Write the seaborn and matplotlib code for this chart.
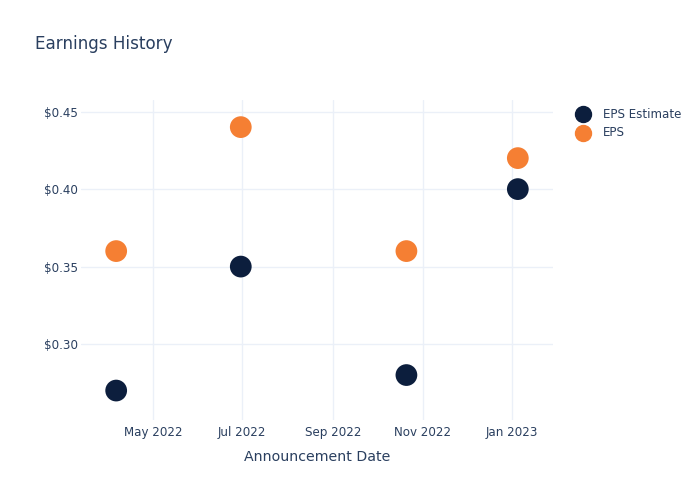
import matplotlib
matplotlib.use("Agg")
import matplotlib.pyplot as plt
import matplotlib.dates as mdates
from matplotlib.ticker import FuncFormatter
import seaborn as sns
import pandas as pd

dates = ["2022-04-06", "2022-06-30", "2022-10-21", "2023-01-05"]
eps_estimate = [0.27, 0.35, 0.28, 0.40]
eps_actual = [0.36, 0.44, 0.36, 0.42]
series_names = ["EPS Estimate", "EPS"]
colors = ["#0c1e3d", "#f57f33"]

df = pd.DataFrame({
    "date": pd.to_datetime(dates * 2),
    "value": eps_estimate + eps_actual,
    "series": [series_names[0]] * len(dates) + [series_names[1]] * len(dates),
})

sns.set_theme(style="white")
plt.rcParams["font.family"] = ["DejaVu Sans"]
text_color = "#2a3f5f"
grid_color = "#ebf0f8"

fig = plt.figure(figsize=(7, 5), dpi=100)
ax = fig.add_axes([81 / 700, 80 / 500, 472 / 700, 320 / 500])

sns.scatterplot(data=df, x="date", y="value", hue="series", palette=colors,
                hue_order=series_names, s=245, edgecolor="none", ax=ax,
                legend=False, zorder=3)

ax.set_xlim(pd.Timestamp("2022-03-13"), pd.Timestamp("2023-01-29"))
ax.set_ylim(0.251, 0.4575)
ax.set_xticks(pd.to_datetime(["2022-05-01", "2022-07-01", "2022-09-01", "2022-11-01", "2023-01-01"]))
ax.xaxis.set_major_formatter(mdates.DateFormatter("%b %Y"))
ax.set_yticks([0.30, 0.35, 0.40, 0.45])
ax.yaxis.set_major_formatter(FuncFormatter(lambda v, p: f"${v:.2f}"))

ax.grid(True, color=grid_color, linewidth=1)
ax.set_axisbelow(True)
for sp in ax.spines.values():
    sp.set_visible(False)
ax.tick_params(axis="both", length=0, labelsize=8.6, colors=text_color)
ax.tick_params(axis="x", pad=4)
ax.tick_params(axis="y", pad=2)
ax.set_xlabel("Announcement Date", fontsize=10.2, color=text_color, labelpad=8)
ax.set_ylabel("")

fig.text(35 / 700, 1 - 44 / 500, "Earnings History", fontsize=12.1,
         color=text_color, va="center", ha="left")

# legend
for i, (name, c) in enumerate(zip(series_names, colors)):
    y = 1 - (114 + i * 19) / 500
    fig.lines.append(plt.Line2D([583 / 700], [y], marker="o", markersize=11.5,
                                color=c, linestyle="none", transform=fig.transFigure))
    fig.text(603 / 700, y, name, fontsize=8.6, color=text_color, va="center", ha="left")

fig.savefig("out.png", dpi=100, facecolor="white")
